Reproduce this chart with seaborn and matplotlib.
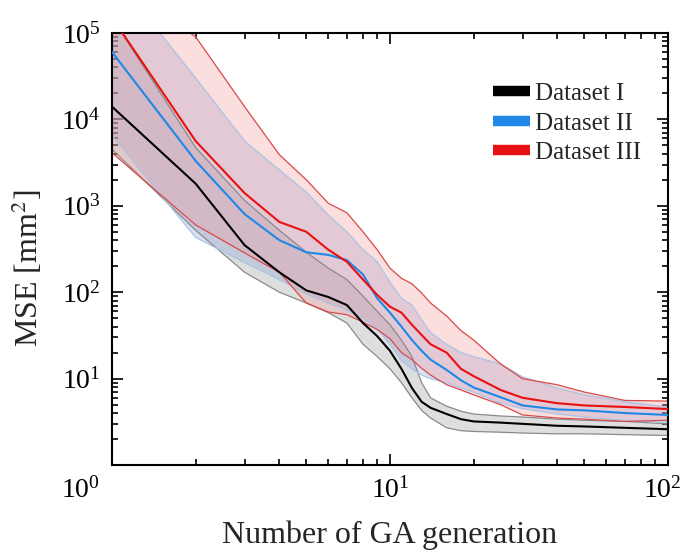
import matplotlib
matplotlib.use("Agg")
import matplotlib.pyplot as plt
import matplotlib.transforms as mtransforms
import numpy as np
import pandas as pd
import seaborn as sns
from matplotlib.ticker import LogLocator, LogFormatterMathtext, NullFormatter

sns.set_style("ticks")
plt.rcParams['font.family'] = ['Liberation Serif', 'DejaVu Serif']
plt.rcParams['mathtext.fontset'] = 'stix'

# generation numbers (x) and MSE values
gens = [1, 2, 3, 4, 5, 6, 7, 8, 9, 10, 11, 12, 13, 14, 16, 18, 20, 25, 30, 40, 50, 70, 100]

mean_1 = [1.4e4, 1800, 350, 170, 105, 88, 71, 44, 31, 21, 13, 7.8, 5.4, 4.6, 3.9, 3.4, 3.2, 3.1, 3.0, 2.85, 2.8, 2.7, 2.6]
low_1 = [4500, 520, 170, 100, 75, 58, 44, 25, 18, 13, 9, 6, 4.3, 3.5, 2.7, 2.5, 2.45, 2.4, 2.35, 2.3, 2.3, 2.25, 2.2]
high_1 = [1.5e5, 4700, 1150, 520, 290, 190, 140, 90, 60, 42, 28, 18, 9, 6, 4.8, 4.2, 3.9, 3.7, 3.6, 3.4, 3.3, 3.2, 3.0]

mean_2 = [6.0e4, 3300, 800, 400, 290, 270, 235, 160, 85, 58, 40, 28, 21, 16.6, 12.6, 9.6, 7.9, 6.1, 4.9, 4.4, 4.3, 4.0, 3.8]
low_2 = [6500, 430, 220, 140, 95, 75, 62, 50, 38, 25, 16, 13, 11, 10, 9, 7.8, 7, 5.2, 4.5, 3.9, 3.6, 3.3, 3.1]
high_2 = [5e5, 3.0e4, 5600, 2600, 1440, 780, 500, 310, 225, 130, 85, 71, 48, 34, 25, 20, 18, 14.8, 10.5, 7.8, 6.5, 5.4, 4.7]

mean_3 = [1.5e5, 5600, 1400, 650, 500, 310, 225, 140, 93, 68, 58, 42, 32, 25, 20, 13, 10.7, 7.4, 6, 5.2, 4.9, 4.7, 4.45]
low_3 = [4100, 600, 285, 170, 75, 59, 55, 45, 37, 29, 20, 16.6, 13.2, 11, 8.5, 7.4, 6.5, 5.0, 3.8, 3.5, 3.4, 3.2, 3.3]
high_3 = [4e5, 9e4, 1.4e4, 3900, 2000, 1070, 830, 500, 310, 190, 145, 125, 98, 75, 53, 36, 28, 14.8, 10, 8.5, 7, 5.6, 5.5]

labels = ['Dataset I', 'Dataset II', 'Dataset III']
colors = ['#000000', '#1E88E8', '#E81010']
band_face = ['#9a9a9a', '#8f9fd8', '#f59a9a']
band_edge = ['#8a8a8a', '#a9c4e6', '#d84a4a']

means = [mean_1, mean_2, mean_3]
lows = [low_1, low_2, low_3]
highs = [high_1, high_2, high_3]

df = pd.concat([pd.DataFrame({'gen': gens, 'mse': m, 'set': lab})
                for m, lab in zip(means, labels)], ignore_index=True)

fig = plt.figure(figsize=(6.85, 5.57), dpi=100)
ax = fig.add_axes([0.1635, 0.165, 0.8115, 0.776])

for lo, hi, fc, ec in zip(lows, highs, band_face, band_edge):
    ax.fill_between(gens, lo, hi, facecolor=fc, alpha=0.32, edgecolor='none', zorder=1)
    ax.plot(gens, lo, color=ec, lw=0.9, zorder=1.5)
    ax.plot(gens, hi, color=ec, lw=0.9, zorder=1.5)

sns.lineplot(data=df, x='gen', y='mse', hue='set', palette=colors,
             ax=ax, zorder=3, legend=True)
for line, lw in zip(ax.get_lines()[-3:], [1.5, 2.2, 2.2]):
    line.set_linewidth(lw)

ax.set_xscale('log')
ax.set_yscale('log')
ax.set_xlim(1, 100)
ax.set_ylim(1, 1e5)

ax.xaxis.set_major_locator(LogLocator(base=10))
ax.yaxis.set_major_locator(LogLocator(base=10))
ax.xaxis.set_minor_locator(LogLocator(base=10, subs=np.arange(2, 10)))
ax.yaxis.set_minor_locator(LogLocator(base=10, subs=np.arange(2, 10)))
ax.xaxis.set_major_formatter(LogFormatterMathtext())
ax.yaxis.set_major_formatter(LogFormatterMathtext())
ax.xaxis.set_minor_formatter(NullFormatter())
ax.yaxis.set_minor_formatter(NullFormatter())

ax.tick_params(which='both', direction='in', top=True, right=True, colors='black',
               labelsize=20, width=1.2)
ax.tick_params(which='major', length=8)
ax.tick_params(axis='x', which='major', pad=9)
ax.tick_params(axis='y', which='major', pad=8)
ax.tick_params(which='minor', length=4)
for s in ax.spines.values():
    s.set_linewidth(1.5)
    s.set_color('black')

fig.canvas.draw()
# the y-axis 10^0 is not shown; the x-axis 10^0 sits left of the corner
for t, v in zip(ax.yaxis.get_majorticklabels(), ax.get_yticks()):
    if np.isclose(v, 1):
        t.set_visible(False)
for t, v in zip(ax.xaxis.get_majorticklabels(), ax.get_xticks()):
    if np.isclose(v, 1):
        t.set_transform(t.get_transform() + mtransforms.ScaledTranslation(-0.32, 0, fig.dpi_scale_trans))
    elif np.isclose(v, 100):
        t.set_transform(t.get_transform() + mtransforms.ScaledTranslation(-0.06, 0, fig.dpi_scale_trans))

ax.set_xlabel('Number of GA generation', fontsize=23)
ax.xaxis.set_label_coords(0.5, -0.128)
ax.set_ylabel('MSE [mm$^{2}$]', fontsize=23)
ax.yaxis.set_label_coords(-0.12, 0.456)

leg = ax.legend(loc='upper left', bbox_to_anchor=(0.685, 0.885), frameon=False,
                borderaxespad=0, borderpad=0,
                fontsize=18, handlelength=1.5, handletextpad=0.2, labelspacing=0.28)
for h in leg.get_lines():
    h.set_linewidth(7.5)
    h.set_solid_capstyle('butt')

fig.savefig('out.png', dpi=100)
